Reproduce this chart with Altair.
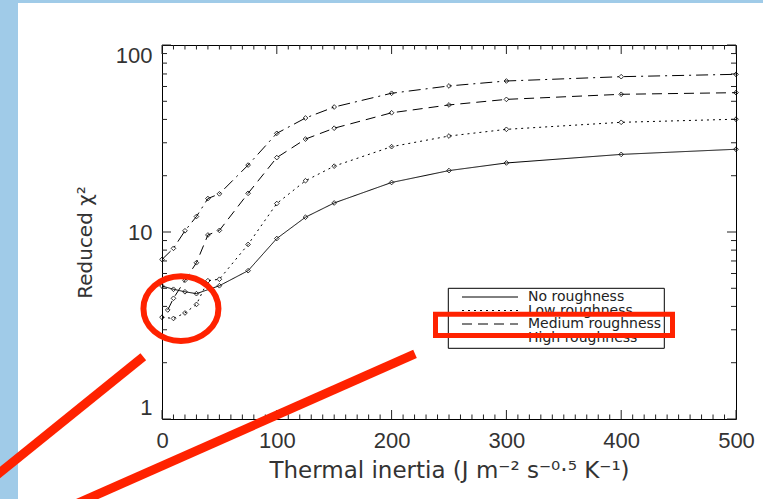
import altair as alt
import pandas as pd

# ---- data ----
series_names = ["No roughness", "Low roughness", "Medium roughness", "High roughness"]
x_no = [0, 10, 20, 30, 50, 75, 100, 125, 150, 200, 250, 300, 400, 500]
y_no = [5.14, 4.94, 4.79, 4.68, 5.16, 6.21, 9.23, 12.0, 14.3, 18.4, 21.3, 23.4, 26.0, 27.7]
x_low = [0, 10, 20, 30, 40, 50, 75, 100, 125, 150, 200, 250, 300, 400, 500]
y_low = [3.50, 3.45, 3.69, 4.10, 5.49, 5.59, 8.58, 14.2, 18.8, 22.5, 28.6, 32.6, 35.4, 38.6, 40.1]
x_med = [5, 10, 20, 30, 40, 50, 75, 100, 125, 150, 200, 250, 300, 400, 500]
y_med = [3.83, 4.42, 5.52, 6.85, 9.64, 10.2, 16.1, 25.0, 31.4, 35.9, 43.4, 47.8, 51.2, 54.5, 55.6]
x_high = [0, 10, 20, 30, 40, 50, 75, 100, 125, 150, 200, 250, 300, 400, 500]
y_high = [7.13, 8.18, 10.15, 12.1, 15.1, 16.0, 22.8, 33.7, 40.7, 46.6, 55.2, 60.4, 64.2, 67.7, 69.7]

x_labels = [0, 100, 200, 300, 400, 500]
y_labels = [1, 10, 100]
x_minor = [v for v in range(0, 501, 10) if v % 100 != 0]
y_minor = [2, 3, 4, 5, 6, 7, 8, 9, 20, 30, 40, 50, 60, 70, 80, 90]

# annotation (red) in data coordinates
circle_x = [16.5]
circle_y = [3.89]
red_x1 = [-16.3, 220.4]
red_y1 = [2.154, 2.227]
red_x2 = [-149.8, -88.9]
red_y2 = [0.4685, 0.322]

x_title = "Thermal inertia (J m\u207b\u00b2 s\u207b\u2070\u00b7\u2075 K\u207b\u00b9)"
y_title = "Reduced \u03c7\u00b2"

# ---- build tables ----
rows = []
for name, xs_, ys_ in zip(series_names, [x_no, x_low, x_med, x_high], [y_no, y_low, y_med, y_high]):
    for a, b in zip(xs_, ys_):
        rows.append({"series": name, "ti": a, "chi": b})
df = pd.DataFrame(rows)

W, H = 574, 374
RED = "#ff2200"
INK = "#222222"
dashes = [[1, 0], [2, 4], [10, 6], [12, 5, 2, 5]]

xs = alt.Scale(domain=[0, 500], nice=False, zero=False)
ys = alt.Scale(type="log", domain=[1, 100], nice=False)
one = alt.Data(values=[{}])

AX = alt.Axis(
    values=x_labels, ticks=False, domain=False, grid=False,
    labelFont="Liberation Sans", labelFontSize=22, labelColor="#333",
    labelPadding=11, labelFlush=False,
    title=x_title, titleFont="DejaVu Sans", titleFontSize=23,
    titleFontWeight="normal", titleColor="#333", titleY=58,
    titleBaseline="alphabetic")
AY = alt.Axis(
    values=y_labels, format="d", ticks=False, domain=False, grid=False,
    labelFont="Liberation Sans", labelFontSize=22, labelColor="#333",
    labelPadding=10, labelFlush=True, labelFlushOffset=0,
    title=y_title, titleFont="DejaVu Sans", titleFontSize=20,
    titleFontWeight="normal", titleColor="#333", titleX=-77, titleY=197,
    titleAngle=270, titleAlign="center", titleBaseline="middle")

def X(field):
    return alt.X(field, scale=xs, axis=AX)

def Y(field):
    return alt.Y(field, scale=ys, axis=AY)

strips = [
    alt.Chart(one).mark_rect(color="#a0cbe8").encode(
        x=alt.value(-162), x2=alt.value(-144), y=alt.value(-45), y2=alt.value(454)),
    alt.Chart(one).mark_rect(color="#a0cbe8").encode(
        x=alt.value(-162), x2=alt.value(601), y=alt.value(-45), y2=alt.value(-42)),
]

lines = alt.Chart(df).mark_line(strokeWidth=1, color="black").encode(
    x=X("ti:Q"),
    y=Y("chi:Q"),
    detail="series:N",
    strokeDash=alt.StrokeDash("series:N", scale=alt.Scale(domain=series_names, range=dashes), legend=None),
)

points = alt.Chart(df).mark_point(shape="diamond", size=22, filled=False, color="black",
                                  strokeWidth=0.8, opacity=1).encode(
    x=X("ti:Q"), y=Y("chi:Q"))

def xticks(vals, length):
    d = pd.DataFrame({"v": vals})
    bot = alt.Chart(d).mark_rule(color=INK, strokeWidth=1).encode(
        x=X("v:Q"), y=alt.value(H), y2=alt.value(H - length))
    top = alt.Chart(d).mark_rule(color=INK, strokeWidth=1).encode(
        x=X("v:Q"), y=alt.value(0), y2=alt.value(length))
    return [bot, top]

def yticks(vals, length):
    d = pd.DataFrame({"v": vals})
    left = alt.Chart(d).mark_rule(color=INK, strokeWidth=1).encode(
        y=Y("v:Q"), x=alt.value(0), x2=alt.value(length))
    right = alt.Chart(d).mark_rule(color=INK, strokeWidth=1).encode(
        y=Y("v:Q"), x=alt.value(W), x2=alt.value(W - length))
    return [left, right]

ticks = xticks(x_labels, 9) + xticks(x_minor, 4.5) + yticks(y_labels, 9) + yticks(y_minor, 5)

# legend (drawn box)
legend = [alt.Chart(one).mark_rect(fill="white", stroke="black", strokeWidth=1).encode(
    x=alt.value(286.3), x2=alt.value(502.3), y=alt.value(243.3), y2=alt.value(303.3))]
row_y = [252, 265.5, 279, 292.5]
for name, dash, ry in zip(series_names, dashes, row_y):
    legend.append(alt.Chart(one).mark_rule(color="black", strokeWidth=1, strokeDash=dash).encode(
        x=alt.value(300), x2=alt.value(356), y=alt.value(ry)))
    legend.append(alt.Chart(one).mark_text(font="DejaVu Sans", fontSize=14, color=INK,
                                           align="left", baseline="middle").encode(
        x=alt.value(366), y=alt.value(ry), text=alt.value(name)))

# red annotations
red_df = pd.DataFrame({"x1": red_x1, "y1": red_y1, "x2": red_x2, "y2": red_y2})
red_lines = alt.Chart(red_df).mark_rule(color=RED, strokeWidth=9, clip=False, strokeCap="butt").encode(
    x=X("x1:Q"), y=Y("y1:Q"), x2="x2:Q", y2="y2:Q")

ellipse = "M -1 0 A 1 0.863 0 1 0 1 0 A 1 0.863 0 1 0 -1 0 Z"
circ_df = pd.DataFrame({"cx": circle_x, "cy": circle_y})
red_circle = alt.Chart(circ_df).mark_point(shape=ellipse, size=5625, filled=False, stroke=RED,
                                           strokeWidth=6, opacity=1, clip=False).encode(
    x=X("cx:Q"), y=Y("cy:Q"))

red_rect = alt.Chart(one).mark_rect(fillOpacity=0, stroke=RED, strokeWidth=5).encode(
    x=alt.value(273.5), x2=alt.value(510.5), y=alt.value(269.2), y2=alt.value(290.5))

chart = alt.layer(
    *strips, lines, *ticks, points, *legend, red_lines, red_circle, red_rect
).properties(
    width=W, height=H,
    padding={"left": 162, "top": 45, "right": 27, "bottom": 80},
    autosize=alt.AutoSizeParams(type="none"),
).configure(background="white").configure_view(stroke="black", strokeWidth=1)

chart.save("out.html", embed_options={"renderer": "svg", "actions": False})
